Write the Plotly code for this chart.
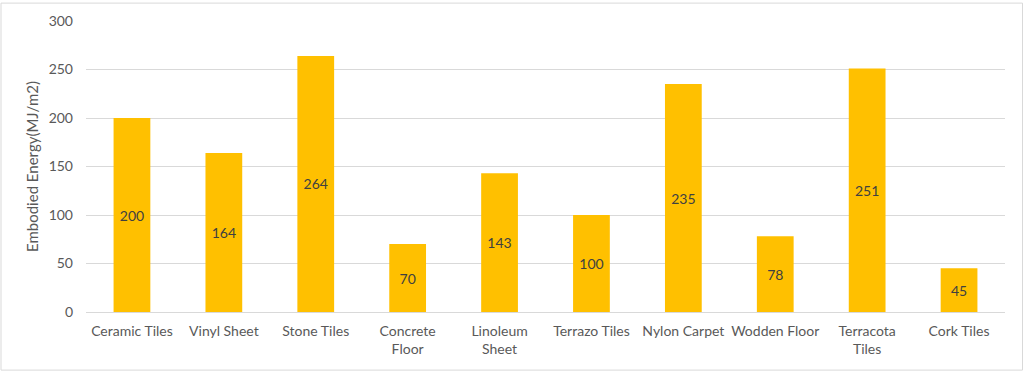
import plotly.graph_objects as go

categories = ["Ceramic Tiles", "Vinyl Sheet", "Stone Tiles", "Concrete<br>Floor", "Linoleum<br>Sheet",
              "Terrazo Tiles", "Nylon Carpet", "Wodden Floor", "Terracota<br>Tiles", "Cork Tiles"]
values = [200, 164, 264, 70, 143, 100, 235, 78, 251, 45]
y_ticks = [0, 50, 100, 150, 200, 250, 300]

W, H = 1024, 372
L, R, T, B = 86, 19, 19, 60
pw, ph = W - L - R, H - T - B
FONT = "Lato, Open Sans, sans-serif"

fig = go.Figure(go.Bar(
    x=categories, y=values,
    marker=dict(color="#FFC000", line=dict(width=0)),
    text=[str(v) for v in values],
    textposition="inside", insidetextanchor="middle",
    textfont=dict(color="#404040", size=14, family=FONT),
    textangle=0,
    hoverinfo="skip",
))

fig.update_layout(
    width=W, height=H,
    margin=dict(l=L, r=R, t=T, b=B),
    paper_bgcolor="white", plot_bgcolor="white",
    bargap=0.6,
    showlegend=False,
    font=dict(family=FONT, size=14, color="#595959"),
    xaxis=dict(showgrid=False, showline=True, linecolor="#d9d9d9", linewidth=1,
               ticks="", tickfont=dict(size=14, color="#595959"), tickangle=0,
               ticklabelstandoff=6),
    yaxis=dict(range=[0, 300], tickvals=y_ticks, showgrid=True, gridcolor="#d9d9d9",
               gridwidth=1, zeroline=False, ticks="", ticklen=0,
               tickfont=dict(size=14, color="#595959"), ticklabelstandoff=12,
               title=dict(text="Embodied Energy(MJ/m2)", font=dict(size=15, color="#595959"),
                          standoff=6)),
    shapes=[dict(type="rect", xref="paper", yref="paper",
                 x0=(1 - L) / pw, x1=(1022.5 - L) / pw,
                 y0=(H - B - 370.5) / ph, y1=(H - B - 1) / ph,
                 line=dict(color="#d9d9d9", width=1), fillcolor="rgba(0,0,0,0)")],
)

fig.write_html("out.html", config={"displayModeBar": False},
               post_script="document.body.style.margin='0';document.body.style.overflow='hidden';")
